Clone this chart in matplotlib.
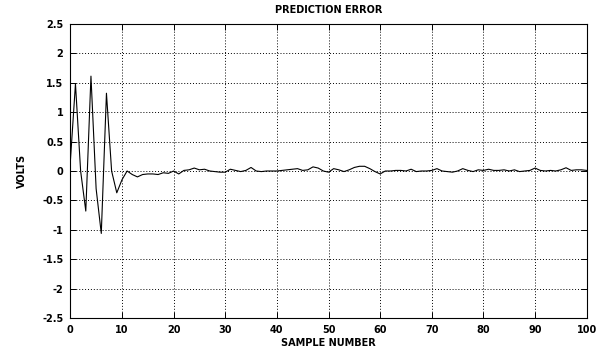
import matplotlib
matplotlib.use("Agg")
import matplotlib.pyplot as plt
import numpy as np

# prediction error per sample (volts)
samples = np.arange(0, 101)
error = [
    0.15, 1.48, 0.00, -0.68, 1.61, -0.30, -1.06, 1.32, 0.00, -0.37,
    -0.15, 0.00, -0.06, -0.10, -0.06, -0.05, -0.05, -0.06, -0.03, -0.04,
    0.00, -0.05, 0.01, 0.02, 0.05, 0.02, 0.03, 0.00, -0.01, -0.02,
    -0.02, 0.03, 0.01, -0.01, 0.01, 0.06, 0.00, -0.01, 0.00, 0.00,
    0.00, 0.01, 0.02, 0.03, 0.04, 0.01, 0.02, 0.07, 0.05, 0.00,
    -0.02, 0.04, 0.02, -0.01, 0.02, 0.06, 0.08, 0.08, 0.04, -0.01,
    -0.05, 0.00, 0.00, 0.01, 0.01, 0.00, 0.03, -0.01, 0.00, 0.00,
    0.01, 0.04, 0.00, -0.01, -0.02, 0.00, 0.04, 0.01, -0.01, 0.02,
    0.01, 0.03, 0.01, 0.01, 0.02, 0.00, 0.02, -0.01, 0.00, 0.01,
    0.05, 0.01, 0.00, 0.01, 0.00, 0.02, 0.055, 0.01, 0.02, 0.02, 0.01,
]
xticks = np.arange(0, 101, 10)
yticks = np.arange(-2.5, 2.51, 0.5)
ytick_labels = ["-2.5", "-2", "-1.5", "-1", "-0.5", "0", "0.5", "1", "1.5", "2", "2.5"]

plt.rcParams.update({
    "font.family": "DejaVu Sans",
    "font.weight": "bold",
    "font.size": 7,
})

fig = plt.figure(figsize=(6.08, 3.52), dpi=100)
ax = fig.add_axes([70.3 / 608, 1 - 318.3 / 352, (586.7 - 70.3) / 608, (318.3 - 23.7) / 352])

ax.plot(samples, error, color="black", lw=0.8)

ax.set_xlim(0, 100)
ax.set_ylim(-2.5, 2.5)
ax.set_xticks(xticks)
ax.set_yticks(yticks)
ax.set_yticklabels(ytick_labels)
ax.grid(True, color="black", ls=(0, (1, 2)), lw=0.7)
ax.tick_params(direction="in", length=4, width=0.7, top=True, right=True,
               labelsize=7, colors="black")
ax.tick_params(axis="x", pad=5)
ax.tick_params(axis="y", pad=5)
for s in ax.spines.values():
    s.set_linewidth(0.8)

ax.set_title("PREDICTION ERROR", fontsize=7, fontweight="bold", pad=8)
ax.set_xlabel("SAMPLE NUMBER", fontsize=7, fontweight="bold", labelpad=2)
ax.set_ylabel("VOLTS", fontsize=7, fontweight="bold", labelpad=11)

fig.savefig("out.png", dpi=100)
